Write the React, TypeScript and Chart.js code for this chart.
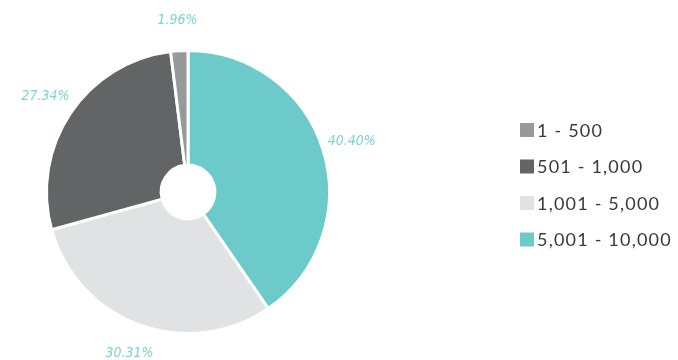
import React, { useEffect, useRef } from "react";
import { Chart, registerables } from "chart.js";

Chart.register(...registerables);

const categories = ["5,001 - 10,000", "1,001 - 5,000", "501 - 1,000", "1 - 500"];
const values = [40.4, 30.31, 27.34, 1.96];
const valueLabels = ["40.40%", "30.31%", "27.34%", "1.96%"];
const colors = ["#6ccacb", "#e1e2e4", "#636466", "#98999b"];

const outsideLabels = {
  id: "outsideLabels",
  afterDatasetsDraw(chart: any) {
    const ctx = chart.ctx;
    const meta = chart.getDatasetMeta(0);
    ctx.save();
    ctx.font = "italic 300 14px 'DejaVu Sans Condensed', 'DejaVu Sans'";
    ctx.fillStyle = "#7fd2d2";
    ctx.textAlign = "center";
    ctx.textBaseline = "middle";
    meta.data.forEach((arc: any, i: number) => {
      const mid = (arc.startAngle + arc.endAngle) / 2;
      const r = arc.outerRadius + 30;
      const x = arc.x + Math.cos(mid) * r;
      const y = arc.y + Math.sin(mid) * r;
      ctx.fillText(valueLabels[i], x, y);
    });
    ctx.restore();
  },
};

const customLegend = {
  id: "customLegend",
  afterDraw(chart: any) {
    const ctx = chart.ctx;
    ctx.save();
    ctx.font = "18px Lato, 'Noto Sans', sans-serif";
    (ctx as any).letterSpacing = "1.2px";
    ctx.textBaseline = "middle";
    ctx.textAlign = "left";
    const order = [3, 2, 1, 0];
    order.forEach((idx, row) => {
      const y = 130 + row * 36.5;
      ctx.fillStyle = colors[idx];
      ctx.fillRect(520, y - 7, 14, 14);
      ctx.fillStyle = "#3a3a3a";
      ctx.fillText(categories[idx], 537, y + 1);
    });
    ctx.restore();
  },
};

export default function App() {
  const ref = useRef<HTMLCanvasElement>(null);
  useEffect(() => {
    document.body.style.margin = "0";
    const chart = new Chart(ref.current!, {
      type: "doughnut",
      data: {
        labels: categories,
        datasets: [
          {
            data: values,
            backgroundColor: colors,
            borderColor: "#ffffff",
            borderWidth: 3,
          },
        ],
      },
      options: {
        responsive: false,
        animation: false,
        cutout: "19%",
        layout: { padding: { top: 49, bottom: 25, left: 45, right: 347 } },
        plugins: {
          legend: { display: false },
          tooltip: { enabled: false },
        },
      },
      plugins: [outsideLabels, customLegend],
    });
    return () => chart.destroy();
  }, []);
  return (
    <div style={{ width: 678, height: 360 }}>
      <canvas ref={ref} width={678} height={360} />
    </div>
  );
}
